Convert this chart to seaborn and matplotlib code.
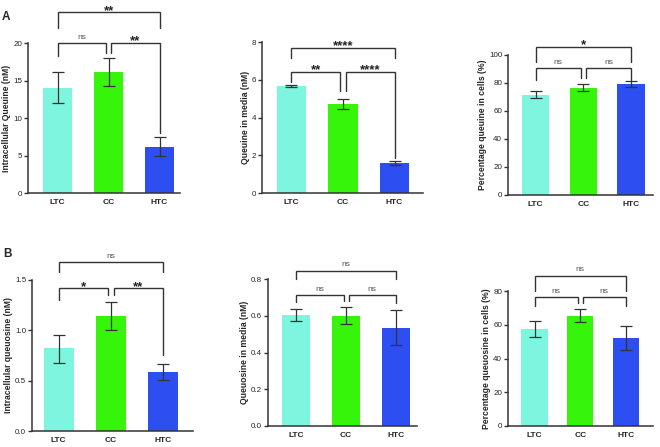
import matplotlib
matplotlib.use("Agg")
import matplotlib.pyplot as plt
import seaborn as sns
import numpy as np
import pandas as pd

sns.set_style("ticks")
plt.rcParams['font.family'] = ['Liberation Sans', 'DejaVu Sans']

groups = ["LTC", "CC", "HTC"]
colors = ["#7ef5df", "#36f50a", "#2d4ff2"]

# Panel A1: intracellular queuine
a1_mean = [14.0, 16.2, 6.2]
a1_lo = [12.0, 14.3, 5.0]
a1_hi = [16.1, 18.0, 7.5]
# Panel A2: queuine in media
a2_mean = [5.65, 4.72, 1.60]
a2_lo = [5.60, 4.45, 1.50]
a2_hi = [5.70, 5.00, 1.70]
# Panel A3: percentage queuine in cells
a3_mean = [71.5, 76.5, 79.3]
a3_lo = [69.0, 74.0, 77.0]
a3_hi = [74.0, 79.0, 81.5]
# Panel B1: intracellular queuosine
b1_mean = [0.82, 1.14, 0.59]
b1_lo = [0.68, 1.00, 0.51]
b1_hi = [0.95, 1.28, 0.67]
# Panel B2: queuosine in media
b2_mean = [0.603, 0.600, 0.535]
b2_lo = [0.570, 0.555, 0.440]
b2_hi = [0.635, 0.645, 0.632]
# Panel B3: percentage queuosine in cells
b3_mean = [57.3, 65.3, 52.3]
b3_lo = [52.5, 61.5, 45.3]
b3_hi = [62.0, 69.2, 59.5]

# brackets: (left group, right group, height, left drop end, right drop end, label)
a1_br = [(0, 1, 20.0, 18.3, 18.7, "ns"), (1, 2, 20.0, 18.7, 8.0, "**"), (0, 2, 24.1, 22.0, 22.0, "**")]
a2_br = [(0, 1, 6.43, 5.9, 5.42, "**"), (1, 2, 6.43, 5.42, 1.87, "****"), (0, 2, 7.70, 7.15, 7.15, "****")]
a3_br = [(0, 1, 90.5, 82.0, 83.3, "ns"), (1, 2, 90.5, 83.3, 82.0, "ns"), (0, 2, 106.0, 95.2, 95.2, "*")]
b1_br = [(0, 1, 1.418, 1.30, 1.35, "*"), (1, 2, 1.418, 1.35, 0.755, "**"), (0, 2, 1.676, 1.58, 1.58, "ns")]
b2_br = [(0, 1, 0.713, 0.673, 0.682, "ns"), (1, 2, 0.713, 0.682, 0.668, "ns"), (0, 2, 0.845, 0.80, 0.80, "ns")]
b3_br = [(0, 1, 76.3, 71.1, 72.7, "ns"), (1, 2, 76.3, 72.7, 71.1, "ns"), (0, 2, 89.1, 80.2, 80.2, "ns")]

ylabels = ["Intracellular Queuine (nM)", "Queuine in media (nM)", "Percentage queuine in cells (%)",
           "Intracellular queuosine (nM)", "Queuosine in media (nM)", "Percentage queuosine in cells (%)"]
yticks = [[0, 5, 10, 15, 20], [0, 2, 4, 6, 8], [0, 20, 40, 60, 80, 100],
          [0.0, 0.5, 1.0, 1.5], [0.0, 0.2, 0.4, 0.6, 0.8], [0, 20, 40, 60, 80]]
yfmt = ["{:.0f}", "{:.0f}", "{:.0f}", "{:.1f}", "{:.1f}", "{:.0f}"]

W, H = 660, 447
fig = plt.figure(figsize=(6.6, 4.47), dpi=100)

# axes boxes in pixels: left, right, top, bottom ; and xlim
boxes = [(28, 180, 43, 193, (-0.58, 2.40)),
         (262, 423, 42, 193, (-0.57, 2.55)),
         (508, 653, 55, 195, (-0.58, 2.46)),
         (32, 193, 280, 431, (-0.51, 2.57)),
         (268, 417, 279, 426, (-0.56, 2.42)),
         (508, 653, 291, 426, (-0.58, 2.59))]

panels = [(a1_mean, a1_lo, a1_hi, a1_br), (a2_mean, a2_lo, a2_hi, a2_br), (a3_mean, a3_lo, a3_hi, a3_br),
          (b1_mean, b1_lo, b1_hi, b1_br), (b2_mean, b2_lo, b2_hi, b2_br), (b3_mean, b3_lo, b3_hi, b3_br)]

line_c = "#333333"
gap = 0.05
for k, ((mean, lo, hi, br), (l, r, t, b, xl)) in enumerate(zip(panels, boxes)):
    ax = fig.add_axes([l / W, 1 - b / H, (r - l) / W, (b - t) / H])
    df = pd.DataFrame({"group": groups, "value": mean})
    sns.barplot(data=df, x="group", y="value", hue="group", palette=colors, legend=False,
                width=0.57, saturation=1, ax=ax, edgecolor="none")
    m = np.array(mean)
    err = np.vstack([m - np.array(lo), np.array(hi) - m])
    ax.errorbar(np.arange(3), m, yerr=err, fmt="none", ecolor=line_c, elinewidth=0.9,
                capsize=4.5, capthick=0.9, zorder=5)
    ticks = yticks[k]
    ax.set_ylim(ticks[0], ticks[-1])
    ax.set_yticks(ticks)
    ax.set_yticklabels([yfmt[k].format(v) for v in ticks], fontsize=5.8)
    ax.set_xlim(*xl)
    ax.set_xlabel("")
    ax.set_ylabel(ylabels[k], fontsize=6.2, fontweight="bold", labelpad=1.5)
    for lab in ax.get_xticklabels():
        lab.set_fontweight("bold")
        lab.set_fontsize(6)
    ax.tick_params(axis="x", length=0, pad=4)
    ax.tick_params(axis="y", length=3, width=1, pad=1.2, color=line_c)
    sns.despine(ax=ax)
    for s in ["left", "bottom"]:
        ax.spines[s].set_linewidth(1.1)
        ax.spines[s].set_color(line_c)
    for (i, j, yb, yl, yr, lab) in br:
        x1 = i + (gap if i == 1 else 0)
        x2 = j - (gap if j == 1 else 0)
        ax.plot([x1, x1, x2, x2], [yl, yb, yb, yr], color=line_c, lw=1.0, clip_on=False,
                solid_joinstyle="miter")
        if lab == "ns":
            ax.annotate(lab, ((x1 + x2) / 2, yb), xytext=(0, 3.2), textcoords="offset points",
                        ha="center", va="baseline", fontsize=6, color="#555555", annotation_clip=False)
        else:
            ax.annotate(lab, ((x1 + x2) / 2, yb), xytext=(0, -1.2), textcoords="offset points",
                        ha="center", va="baseline", fontsize=9.5, fontweight="bold", color="#222222",
                        annotation_clip=False)

fig.text(2 / W, 1 - 20 / H, "A", fontsize=8.5, fontweight="bold")
fig.text(3 / W, 1 - 257 / H, "B", fontsize=8.5, fontweight="bold")

fig.savefig("out.png", dpi=100)
